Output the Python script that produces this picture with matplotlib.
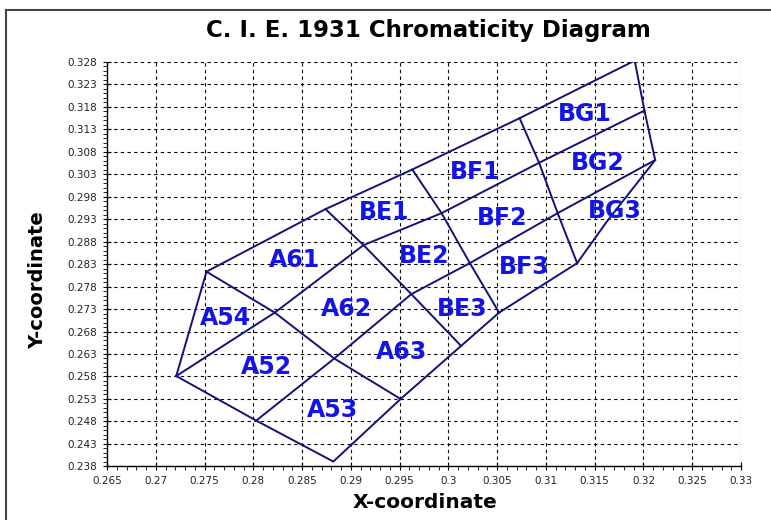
import numpy as np
import matplotlib
matplotlib.use('Agg')
import matplotlib.pyplot as plt
from matplotlib.lines import Line2D
from matplotlib.ticker import MultipleLocator

# outer boundary of all bins
outline_x = [0.2721, 0.2752, 0.2874, 0.2963, 0.3073, 0.3191, 0.3201, 0.3212,
             0.3163, 0.3132, 0.3052, 0.3013, 0.2951, 0.2882, 0.2803, 0.2721]
outline_y = [0.2581, 0.2813, 0.2952, 0.3040, 0.3154, 0.3282, 0.3171, 0.3061,
             0.2926, 0.2832, 0.2722, 0.2648, 0.2530, 0.2391, 0.2482, 0.2581]

# row dividers (1|2 and 2|3)
row1_x = [0.2721, 0.2822, 0.2913, 0.2993, 0.3093, 0.3201]
row1_y = [0.2581, 0.2722, 0.2872, 0.2943, 0.3055, 0.3171]
row2_x = [0.2803, 0.2883, 0.2962, 0.3022, 0.3112, 0.3212]
row2_y = [0.2482, 0.2620, 0.2763, 0.2832, 0.2943, 0.3061]

# column dividers
col_a5_x = [0.2752, 0.2822, 0.2883, 0.2951]
col_a5_y = [0.2813, 0.2722, 0.2620, 0.2530]
col_a6_x = [0.2874, 0.2913, 0.2962, 0.3013]
col_a6_y = [0.2952, 0.2872, 0.2763, 0.2648]
col_be_x = [0.2963, 0.2993, 0.3022, 0.3052]
col_be_y = [0.3040, 0.2943, 0.2832, 0.2722]
col_bf_x = [0.3073, 0.3093, 0.3112, 0.3132]
col_bf_y = [0.3154, 0.3055, 0.2943, 0.2832]

bin_names = ['BG1', 'BG2', 'BG3', 'BF1', 'BF2', 'BF3', 'BE1', 'BE2', 'BE3',
             'A61', 'A62', 'A63', 'A54', 'A52', 'A53']
label_x = [0.3140, 0.3153, 0.3171, 0.3027, 0.3055, 0.3078, 0.2934, 0.2975, 0.3014,
           0.2842, 0.2895, 0.2952, 0.2771, 0.2813, 0.2881]
label_y = [0.3164, 0.3055, 0.2947, 0.3035, 0.2933, 0.2823, 0.2946, 0.2848, 0.2731,
           0.2838, 0.2730, 0.2634, 0.2710, 0.2601, 0.2505]

x_ticks = np.arange(0.265, 0.3301, 0.005)
y_ticks = np.arange(0.238, 0.3281, 0.005)

line_col = '#12127a'
text_col = '#1414e6'

fig = plt.figure(figsize=(7.71, 5.2), dpi=100)
ax = fig.add_axes([0.1388, 0.1029, 0.8223, 0.7788])

lines = [(outline_x, outline_y), (row1_x, row1_y), (row2_x, row2_y),
         (col_a5_x, col_a5_y), (col_a6_x, col_a6_y),
         (col_be_x, col_be_y), (col_bf_x, col_bf_y)]
for xs, ys in lines:
    ax.plot(xs, ys, color=line_col, lw=1.4, solid_joinstyle='miter')

for name, lx, ly in zip(bin_names, label_x, label_y):
    ax.text(lx, ly, name, color=text_col, fontsize=17, fontweight='bold',
            ha='center', va='center')

ax.set_xlim(0.265, 0.33)
ax.set_ylim(0.238, 0.328)
ax.set_xticks(x_ticks)
ax.set_yticks(y_ticks)
ax.set_xticklabels(['%g' % round(v, 3) for v in x_ticks])
ax.set_yticklabels(['%.3f' % v for v in y_ticks])
ax.xaxis.set_minor_locator(MultipleLocator(0.001))
ax.yaxis.set_minor_locator(MultipleLocator(0.001))
ax.tick_params(which='major', direction='inout', length=6, width=0.8,
               labelsize=7.5, labelcolor='#222222', pad=4)
ax.tick_params(which='minor', direction='out', length=3, width=0.6)

ax.grid(True, which='major', color='black', ls=(0, (3, 3)), lw=0.8)
for s in ['top', 'right']:
    ax.spines[s].set_visible(False)
for s in ['left', 'bottom']:
    ax.spines[s].set_linewidth(1.0)

fig.text(0.555, 0.942, 'C. I. E. 1931 Chromaticity Diagram', ha='center',
         va='center', fontsize=16.5, fontweight='heavy')
fig.text(0.551, 0.033, 'X-coordinate', ha='center', va='center',
         fontsize=14.5, fontweight='heavy')
fig.text(0.049, 0.462, 'Y-coordinate', ha='center', va='center',
         rotation=90, fontsize=14, fontweight='heavy')

# frame of the original window
fig.add_artist(Line2D([0.008, 0.008], [0.0, 0.981], color='#444444', lw=1.5))
fig.add_artist(Line2D([0.008, 1.0], [0.981, 0.981], color='#444444', lw=1.5))

fig.savefig('out.png', dpi=100)
